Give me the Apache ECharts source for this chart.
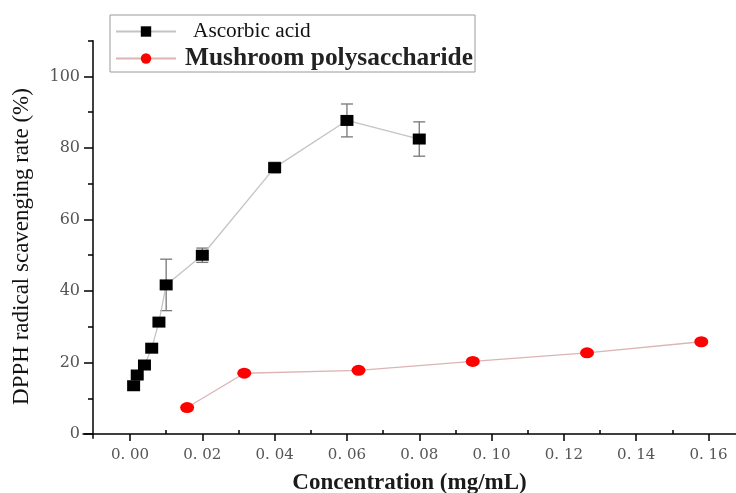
<!DOCTYPE html>
<html>
<head>
<meta charset="utf-8">
<script src="https://cdn.jsdelivr.net/npm/echarts@6/dist/echarts.min.js"></script>
<style>html,body{margin:0;padding:0;background:#fff}#c{width:736px;height:493px}</style>
</head>
<body>
<div id="c"></div>
<script>
// ---- data ----
const ascX = [0.001, 0.002, 0.004, 0.006, 0.008, 0.01, 0.02, 0.04, 0.06, 0.08];
const ascY = [13.5, 16.5, 19.3, 24.0, 31.3, 41.7, 50.0, 74.5, 87.7, 82.5];
const ascErr = [0, 0, 0, 0, 0, 7.2, 2.0, 1.5, 4.6, 4.8];
const mushX = [0.0158, 0.0316, 0.0632, 0.0948, 0.1264, 0.158];
const mushY = [7.4, 17.0, 17.8, 20.3, 22.7, 25.8];
const xMajorTicks = [0, 0.02, 0.04, 0.06, 0.08, 0.10, 0.12, 0.14, 0.16];
const xMinorTicks = [0.01, 0.03, 0.05, 0.07, 0.09, 0.11, 0.13, 0.15];
const yMajorTicks = [0, 20, 40, 60, 80, 100];
const yMinorTicks = [10, 30, 50, 70, 90, 110];
const seriesNames = ['Ascorbic acid', 'Mushroom polysaccharide'];
const xTitle = 'Concentration (mg/mL)';
const yTitle = 'DPPH radical scavenging rate (%)';

const serif = '"Liberation Serif", "Times New Roman", serif';
const tickFont = '"DejaVu Serif", serif';
const chart = echarts.init(document.getElementById('c'), null, {renderer: 'canvas'});

const xRange = {min: -0.013, max: 0.1676};
const yRange = {min: -1.2, max: 110};

const option = {
  animation: false,
  backgroundColor: '#fff',
  grid: {left: 83, right: 0, top: 40.7, bottom: 54.7, containLabel: false, outerBoundsMode: 'none'},
  legend: {
    orient: 'vertical',
    left: 110, top: 15,
    itemWidth: 60, itemHeight: 13, itemGap: 4,
    padding: [6, 2, 1, 5],
    borderColor: '#9a9a9a', borderWidth: 1,
    data: [
      {name: seriesNames[0], textStyle: {fontFamily: serif, fontSize: 21.3, color: '#111', padding: [0, 0, 0, 12]}},
      {name: seriesNames[1], textStyle: {fontFamily: serif, fontSize: 25.4, fontWeight: 'bold', color: '#222', padding: [0, 0, 0, 4]}}
    ]
  },
  xAxis: [
    {
      type: 'value', ...xRange,
      axisLine: {show: true, onZero: true, lineStyle: {color: '#000', width: 1.5}},
      splitLine: {show: false},
      axisTick: {show: true, customValues: xMajorTicks, length: 7, lineStyle: {color: '#000', width: 1.5}},
      axisLabel: {
        customValues: xMajorTicks, margin: 9,
        fontFamily: tickFont, fontSize: 15, color: '#555',
        formatter: v => v.toFixed(2).replace('.', '. ')
      },
      name: xTitle, nameLocation: 'middle', nameGap: 33,
      nameTextStyle: {fontFamily: serif, fontSize: 23, fontWeight: 'bold', color: '#1a1a1a'}
    },
    {
      type: 'value', ...xRange,
      axisLine: {show: false, onZero: true},
      splitLine: {show: false},
      axisTick: {show: true, customValues: xMinorTicks, length: 4, lineStyle: {color: '#000', width: 1.5}},
      axisLabel: {show: false}
    }
  ],
  yAxis: [
    {
      type: 'value', ...yRange, position: 'left', offset: -10,
      axisLine: {show: true, onZero: false, lineStyle: {color: '#000', width: 1.5}},
      splitLine: {show: false},
      axisTick: {show: true, customValues: yMajorTicks, length: 9, lineStyle: {color: '#000', width: 1.5}},
      axisLabel: {customValues: yMajorTicks, margin: 13, fontFamily: tickFont, fontSize: 16, color: '#555'},
      name: yTitle, nameLocation: 'middle', nameGap: 60,
      nameTextStyle: {fontFamily: serif, fontSize: 23, color: '#111', padding: [0, 14, 0, 0]}
    },
    {
      type: 'value', ...yRange, position: 'left', offset: -10,
      axisLine: {show: false, onZero: false},
      splitLine: {show: false},
      axisTick: {show: true, customValues: yMinorTicks, length: 5, lineStyle: {color: '#000', width: 1.5}},
      axisLabel: {show: false}
    }
  ],
  series: [
    {
      type: 'custom', name: 'errAsc', z: 1, silent: true,
      data: ascX.map((x, i) => [x, ascY[i], ascErr[i]]),
      renderItem: function (params, api) {
        const x = api.value(0), y = api.value(1), e = api.value(2);
        if (!e) return null;
        const top = api.coord([x, y + e]);
        const bot = api.coord([x, y - e]);
        const hw = 6;
        const st = {stroke: '#777', lineWidth: 1.3};
        return {type: 'group', children: [
          {type: 'line', shape: {x1: top[0], y1: top[1], x2: bot[0], y2: bot[1]}, style: st},
          {type: 'line', shape: {x1: top[0] - hw, y1: top[1], x2: top[0] + hw, y2: top[1]}, style: st},
          {type: 'line', shape: {x1: bot[0] - hw, y1: bot[1], x2: bot[0] + hw, y2: bot[1]}, style: st}
        ]};
      }
    },
    {
      type: 'line', name: seriesNames[0], z: 3,
      data: ascX.map((x, i) => [x, ascY[i]]),
      symbol: 'rect', symbolSize: [13, 11],
      itemStyle: {color: '#000'},
      lineStyle: {color: '#c4c4c4', width: 1.3}
    },
    {
      type: 'line', name: seriesNames[1], z: 3,
      data: mushX.map((x, i) => [x, mushY[i]]),
      symbol: 'circle', symbolSize: [14, 11],
      itemStyle: {color: '#ff0000'},
      lineStyle: {color: '#dcb4b4', width: 1.3}
    }
  ]
};
chart.setOption(option);
</script>
</body>
</html>
